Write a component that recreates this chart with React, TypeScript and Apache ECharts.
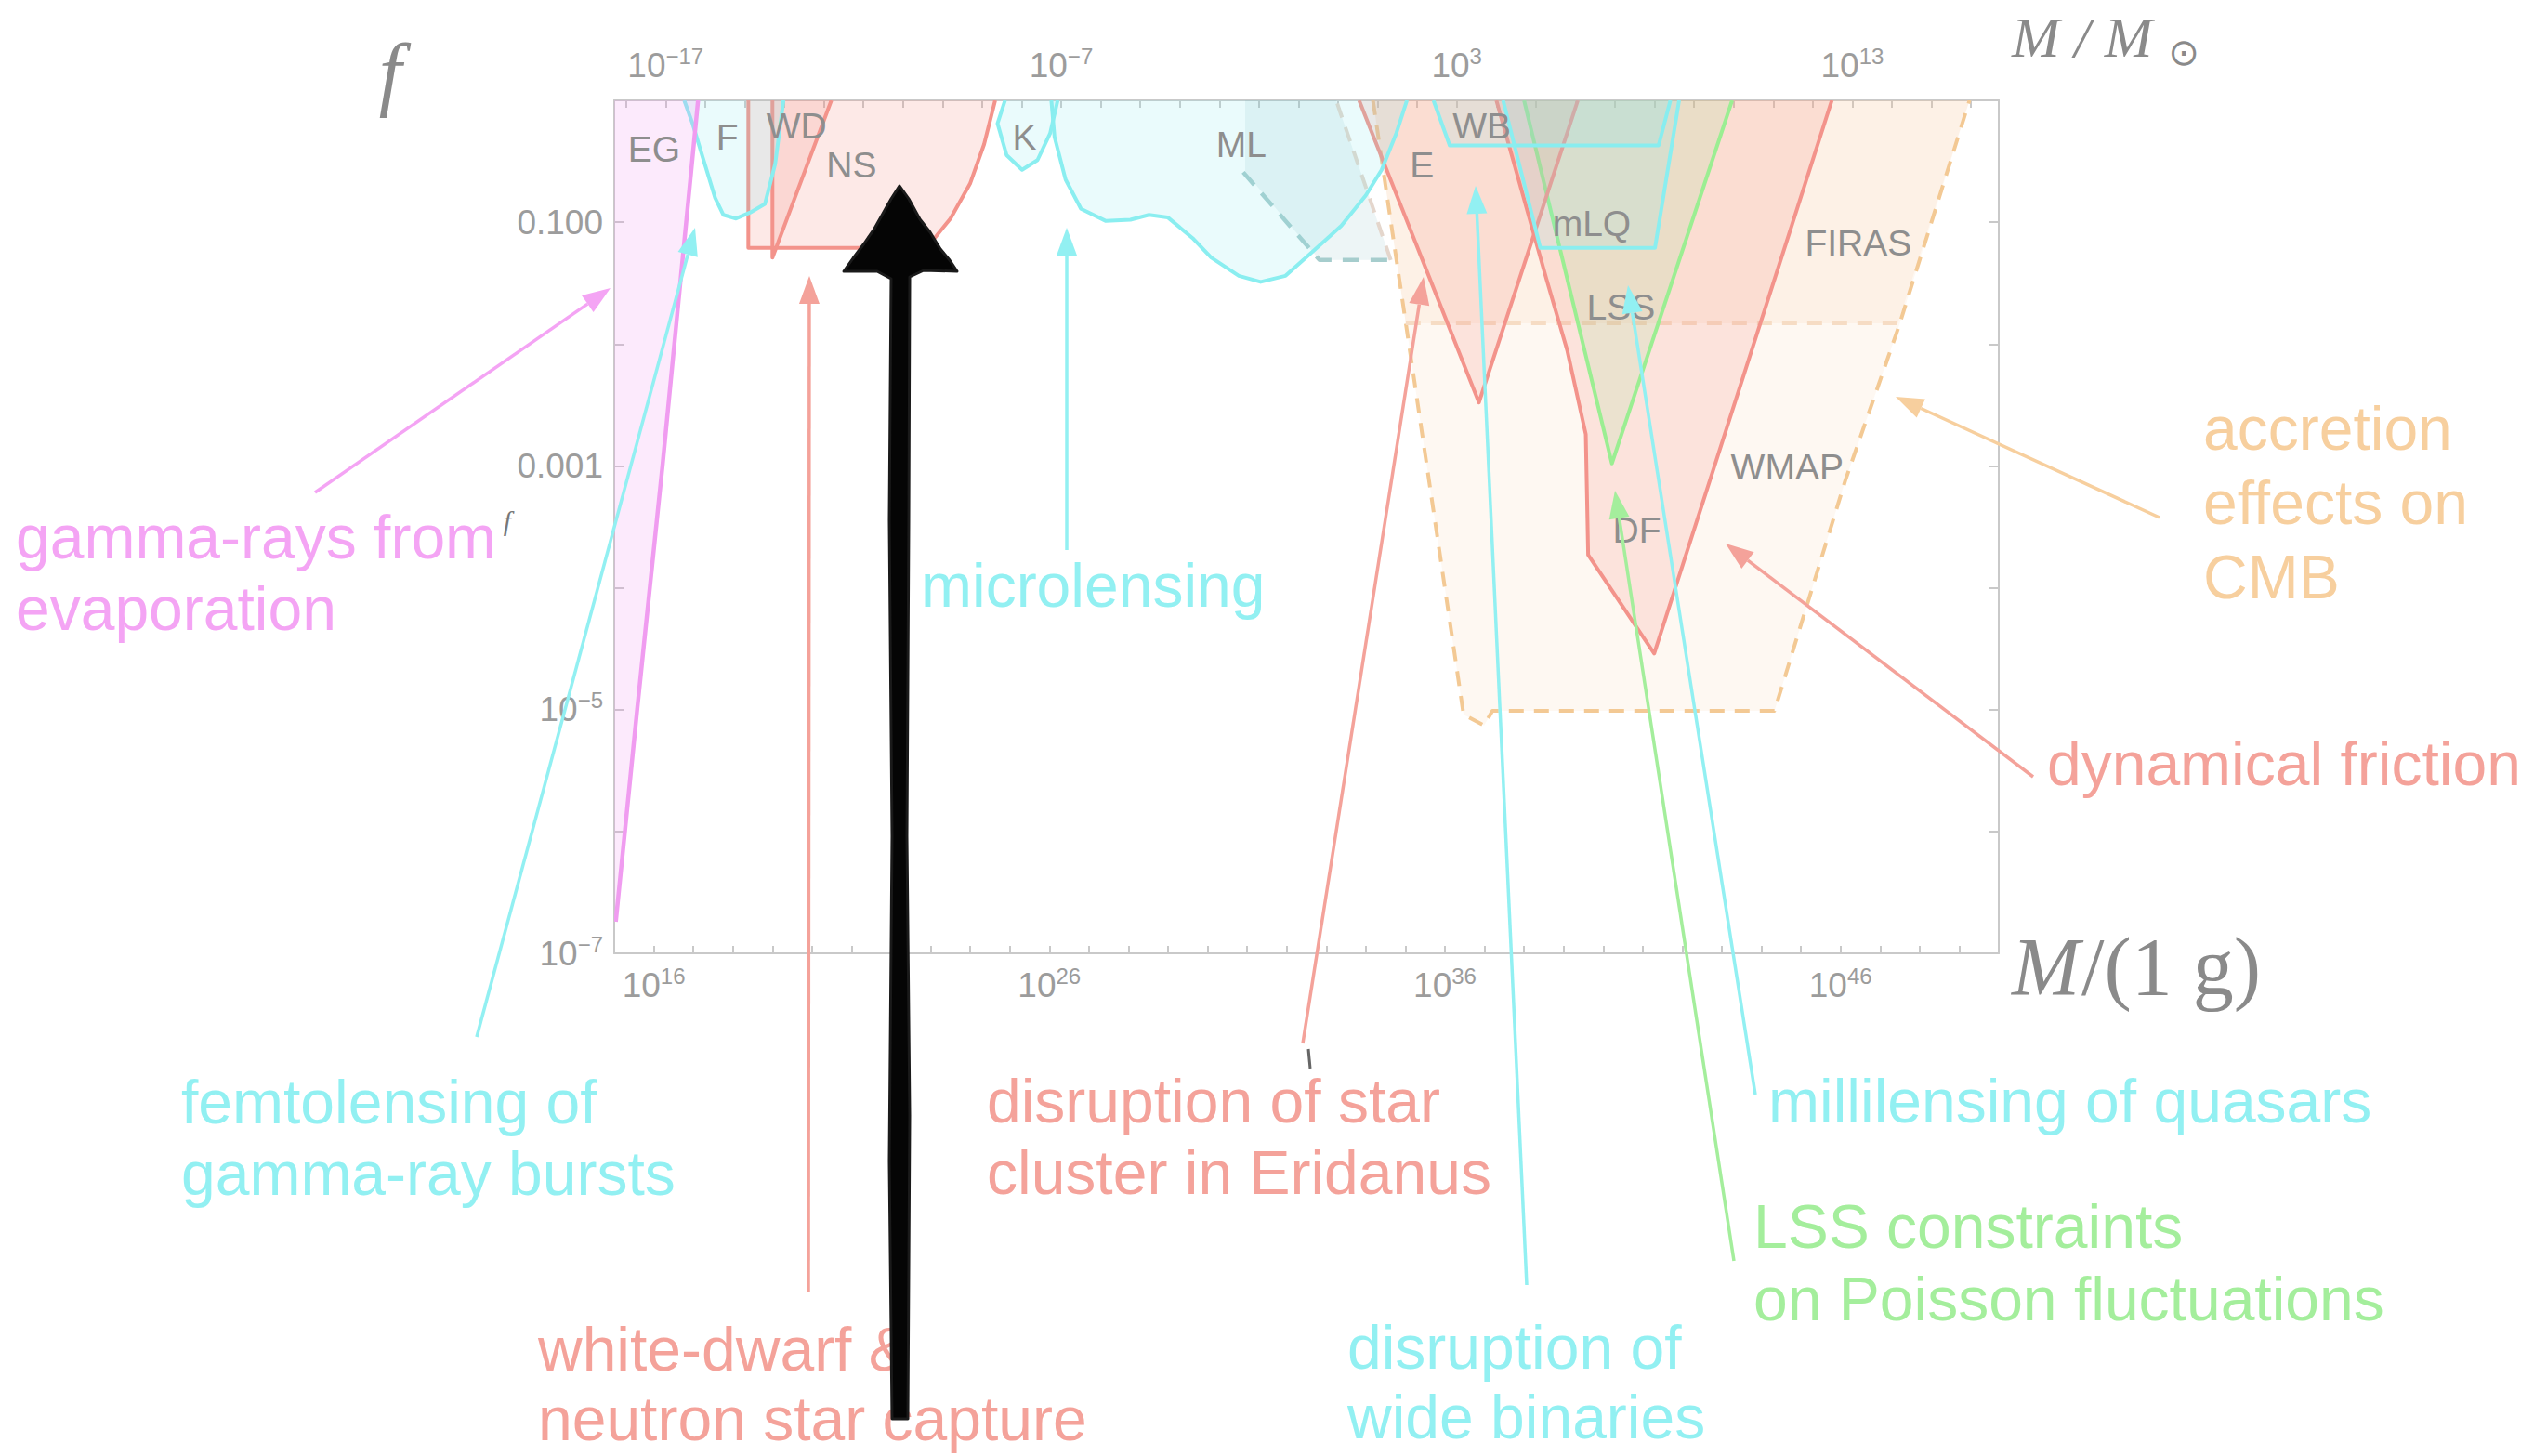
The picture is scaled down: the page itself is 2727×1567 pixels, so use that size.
import React, { useEffect, useRef } from 'react';
import * as echarts from 'echarts';

type Pt = [number, number];

// log10 of one solar mass in grams, links the two mass scales
const LOG_SOLAR_MASS_G = 33.2986;

// axis ranges (log10 M/g, log10 f)
const massRange: Pt = [15, 50];
const fracRange: Pt = [-7, 0];

// tick labels
const gramLabelExps = [16, 26, 36, 46];
const solarLabelExps = [-17, -7, 3, 13];
const fracLabelExps = [-7, -5, -3, -1];

// constraint boundaries, [log10 M/g, log10 f]
const evaporationEdge: Pt[] = [[15.04, -6.74], [15.58, -5.0], [16.22, -3.0], [16.82, -1.0], [17.12, 0]];
const evaporationFill: Pt[] = [[15, -6.74], [15.04, -6.74], [15.58, -5.0], [16.22, -3.0], [16.82, -1.0], [17.12, 0], [15, 0]];
const femtoEdge: Pt[] = [[16.77, 0], [16.98, -0.19], [17.24, -0.47], [17.55, -0.8], [17.76, -0.94], [18.08, -0.97], [18.44, -0.92], [18.81, -0.85], [19.07, -0.52], [19.28, 0]];
const neutronStarEdge: Pt[] = [[18.39, 0], [18.39, -1.21], [22.6, -1.21], [23.1, -1.13], [23.5, -0.97], [24.0, -0.68], [24.35, -0.36], [24.63, 0]];
const whiteDwarfEdge: Pt[] = [[19.0, 0], [19.0, -1.29], [20.49, 0]];
const keplerEdge: Pt[] = [[24.88, 0], [24.69, -0.19], [24.92, -0.45], [25.31, -0.57], [25.7, -0.49], [26.02, -0.27], [26.21, 0]];
const microlensEdge: Pt[] = [[26.05, 0], [26.13, -0.3], [26.41, -0.65], [26.8, -0.89], [27.43, -0.99], [28.05, -0.98], [28.52, -0.94], [28.99, -0.96], [29.62, -1.13], [30.09, -1.29], [30.79, -1.44], [31.34, -1.49], [31.97, -1.44], [32.59, -1.26], [33.38, -1.03], [34.0, -0.78], [34.4, -0.57], [34.77, -0.27], [35.04, 0]];
const machoEdge: Pt[] = [[30.9, -0.59], [32.83, -1.31], [34.63, -1.31]];
const machoSide: Pt[] = [[34.63, -1.31], [33.25, 0]];
const machoFill: Pt[] = [[30.95, 0], [30.95, -0.59], [32.83, -1.31], [34.63, -1.31], [33.25, 0]];
const eridanusEdge: Pt[] = [[33.83, 0], [36.86, -2.48], [39.36, 0]];
const wideBinaryEdge: Pt[] = [[35.71, 0], [36.12, -0.37], [41.4, -0.37], [41.7, 0]];
const quasarEdge: Pt[] = [[37.47, 0], [38.41, -1.21], [41.31, -1.21], [41.92, 0]];
const lssEdge: Pt[] = [[38.0, 0], [40.22, -2.98], [43.26, 0]];
const frictionEdge: Pt[] = [[37.3, 0], [38.56, -1.46], [39.09, -2.05], [39.56, -2.74], [39.62, -3.73], [41.29, -4.54], [44.34, -1.46], [45.78, 0]];
const wmapEdge: Pt[] = [[34.18, 0], [36.47, -5.04], [36.99, -5.13], [37.2, -5.01], [44.33, -5.01], [46.12, -3.12], [47.48, -1.85], [49.26, 0]];
const firasEdge: Pt[] = [[35.01, -1.83], [47.45, -1.83]];
const firasFill: Pt[] = [[34.18, 0], [35.01, -1.83], [47.45, -1.83], [49.26, 0]];

// region tags inside the plot
const tagNames = ['EG', 'F', 'WD', 'NS', 'K', 'ML', 'E', 'WB', 'mLQ', 'LSS', 'FIRAS', 'WMAP', 'DF'];
const tagPoints: Pt[] = [[16.01, -0.4], [17.86, -0.3], [19.61, -0.21], [21.0, -0.53], [25.37, -0.3], [30.85, -0.36], [35.42, -0.53], [36.93, -0.21], [39.71, -1.01], [40.45, -1.7], [46.45, -1.17], [44.65, -3.01], [40.85, -3.53]];

const RED = '#f3938b';
const RED_FILL = 'rgba(244,140,128,0.19)';
const CYAN = '#8aeef0';
const CYAN_FILL = 'rgba(130,232,238,0.17)';
const MAGENTA = '#f09cf0';
const MAGENTA_FILL = 'rgba(240,150,240,0.2)';
const GREEN = '#9bee92';
const GREEN_FILL = 'rgba(150,225,140,0.16)';
const ORANGE = '#f3c994';
const ORANGE_FILL = 'rgba(245,195,150,0.12)';
const TEAL = '#a6cdcd';
const TEAL_FILL = 'rgba(110,175,180,0.12)';
const AXIS_GREY = '#c9c9c9';
const LABEL_GREY = '#9c9c9c';

interface RegionStyle {
  fill?: string;
  fillPts?: Pt[];
  stroke?: string;
  width?: number;
  dash?: number[];
}

function region(name: string, edge: Pt[], opt: RegionStyle) {
  return {
    type: 'custom',
    name,
    coordinateSystem: 'cartesian2d',
    clip: true,
    silent: true,
    encode: { x: 0, y: 1 },
    data: edge,
    renderItem: (params: any, api: any) => {
      if (params.dataIndex !== 0) return null;
      const children: any[] = [];
      if (opt.fill) {
        const fp = (opt.fillPts || edge).map((p) => api.coord(p));
        children.push({ type: 'polygon', shape: { points: fp }, style: { fill: opt.fill, stroke: 'none' } });
      }
      if (opt.stroke) {
        const sp = edge.map((p) => api.coord(p));
        children.push({
          type: 'polyline',
          shape: { points: sp },
          style: { fill: 'none', stroke: opt.stroke, lineWidth: opt.width || 4, lineDash: opt.dash || null, lineJoin: 'round' },
        });
      }
      return { type: 'group', children };
    },
  };
}

function ticksBetween(a: number, b: number): number[] {
  const out: number[] = [];
  for (let v = Math.ceil(a); v <= Math.floor(b); v++) out.push(v);
  return out;
}

function powerLabel(v: number) {
  const e = String(v).replace('-', '\u2212');
  return `{b|10}{s|${e}}`;
}

const tickRich = {
  b: { fontSize: 37, lineHeight: 44, color: LABEL_GREY, fontFamily: 'Liberation Sans' },
  s: { fontSize: 24, lineHeight: 24, verticalAlign: 'top', color: LABEL_GREY, fontFamily: 'Liberation Sans' },
};

function arrow(x1: number, y1: number, x2: number, y2: number, color: string) {
  const dx = x2 - x1;
  const dy = y2 - y1;
  const len = Math.hypot(dx, dy);
  const ux = dx / len;
  const uy = dy / len;
  const hl = 30;
  const hw = 11;
  const bx = x2 - ux * hl;
  const by = y2 - uy * hl;
  return [
    { type: 'line', z: 100, shape: { x1, y1, x2: bx, y2: by }, style: { stroke: color, lineWidth: 3.5 } },
    {
      type: 'polygon',
      z: 100,
      shape: { points: [[x2, y2], [bx - uy * hw, by + ux * hw], [bx + uy * hw, by - ux * hw]] },
      style: { fill: color },
    },
  ];
}

function note(lines: string[], x: number, y: number, step: number, color: string) {
  return lines.map((t, i) => ({
    type: 'text',
    z: 100,
    x,
    y: y + i * step,
    style: {
      text: t,
      fill: color,
      fontSize: 66,
      fontFamily: 'Liberation Sans',
      align: 'left',
      verticalAlign: 'middle',
      textAlign: 'left',
      textVerticalAlign: 'middle',
    },
  }));
}

const NOTE_MAGENTA = '#f4a4f4';
const NOTE_CYAN = '#92f0f2';
const NOTE_RED = '#f4a29a';
const NOTE_GREEN = '#a4ee9c';
const NOTE_ORANGE = '#f7cf9e';

function buildOption() {
  const gramTicks = ticksBetween(massRange[0], massRange[1]);
  const solarMin = massRange[0] - LOG_SOLAR_MASS_G;
  const solarMax = massRange[1] - LOG_SOLAR_MASS_G;
  const solarTicks = ticksBetween(solarMin, solarMax);
  const fracTicks = ticksBetween(fracRange[0], fracRange[1]);

  const axisLine = { show: true, onZero: false, lineStyle: { color: AXIS_GREY, width: 2 } };

  // hand-drawn black pointer
  const blackArrow = {
    type: 'polygon',
    z: 200,
    shape: {
      points: [
        [968, 200], [978, 214], [990, 236], [1001, 250], [1012, 268], [1022, 280], [1030, 292],
        [994, 291], [979, 298], [978, 560], [976, 900], [979, 1200], [977, 1527],
        [960, 1527], [957, 1250], [960, 900], [957, 560], [959, 300], [944, 292], [908, 292],
        [918, 278], [930, 262], [941, 246], [950, 230], [959, 214],
      ],
    },
    style: { fill: '#050505', stroke: '#1a1a1a', lineWidth: 3, lineJoin: 'round' },
  };

  const graphic: any[] = [
    // axis titles
    { type: 'text', x: 420, y: 78, style: { text: 'f', fontSize: 88, fontStyle: 'italic', fontFamily: 'Liberation Serif', fill: '#8a8a8a', align: 'center', verticalAlign: 'middle', textAlign: 'center', textVerticalAlign: 'middle' } },
    { type: 'text', x: 2165, y: 40, style: { text: 'M / M', fontSize: 62, fontStyle: 'italic', fontFamily: 'Liberation Serif', fill: '#8a8a8a', align: 'left', verticalAlign: 'middle', textAlign: 'left', textVerticalAlign: 'middle' } },
    { type: 'text', x: 2350, y: 56, style: { text: '\u2299', fontSize: 40, fontFamily: 'DejaVu Sans', fill: '#8a8a8a', align: 'center', verticalAlign: 'middle', textAlign: 'center', textVerticalAlign: 'middle' } },
    { type: 'text', x: 2165, y: 1040, style: { text: 'M', fontSize: 88, fontStyle: 'italic', fontFamily: 'Liberation Serif', fill: '#8a8a8a', align: 'left', verticalAlign: 'middle', textAlign: 'left', textVerticalAlign: 'middle' } },
    { type: 'text', x: 2240, y: 1040, style: { text: '/(1 g)', fontSize: 88, fontFamily: 'Liberation Serif', fill: '#8a8a8a', align: 'left', verticalAlign: 'middle', textAlign: 'left', textVerticalAlign: 'middle' } },
    { type: 'text', x: 546, y: 560, z: 120, style: { text: 'f', fontSize: 30, fontStyle: 'italic', fontFamily: 'Liberation Serif', fill: '#777777', align: 'center', verticalAlign: 'middle', textAlign: 'center', textVerticalAlign: 'middle' } },

    // annotations
    ...note(['gamma-rays from', 'evaporation'], 17, 578, 77, NOTE_MAGENTA),
    ...arrow(339, 530, 657, 310, NOTE_MAGENTA),
    ...note(['femtolensing of', 'gamma-ray bursts'], 195, 1186, 77, NOTE_CYAN),
    ...arrow(513, 1116, 748, 245, NOTE_CYAN),
    ...note(['white-dwarf &', 'neutron star capture'], 579, 1452, 75, NOTE_RED),
    ...arrow(870, 1391, 871, 297, NOTE_RED),
    ...note(['microlensing'], 991, 630, 77, NOTE_CYAN),
    ...arrow(1148, 592, 1148, 245, NOTE_CYAN),
    ...note(['disruption of star', 'cluster in Eridanus'], 1062, 1185, 77, NOTE_RED),
    ...arrow(1402, 1123, 1532, 298, NOTE_RED),
    { type: 'line', z: 110, shape: { x1: 1408, y1: 1129, x2: 1410, y2: 1150 }, style: { stroke: '#666', lineWidth: 3 } },
    ...note(['disruption of', 'wide binaries'], 1450, 1450, 75, NOTE_CYAN),
    ...arrow(1643, 1383, 1588, 200, NOTE_CYAN),
    ...note(['millilensing of quasars'], 1903, 1185, 77, NOTE_CYAN),
    ...arrow(1889, 1178, 1752, 307, NOTE_CYAN),
    ...note(['LSS constraints', 'on Poisson fluctuations'], 1887, 1320, 78, NOTE_GREEN),
    ...arrow(1866, 1357, 1738, 528, NOTE_GREEN),
    ...note(['accretion', 'effects on', 'CMB'], 2371, 461, 80, NOTE_ORANGE),
    ...arrow(2324, 557, 2040, 427, NOTE_ORANGE),
    ...note(['dynamical friction'], 2203, 822, 77, NOTE_RED),
    ...arrow(2188, 836, 1857, 585, NOTE_RED),

    blackArrow,
  ];

  return {
    animation: false,
    backgroundColor: '#ffffff',
    grid: { left: 661, top: 108, width: 1490, height: 918, containLabel: false },
    xAxis: [
      {
        type: 'value',
        position: 'bottom',
        min: massRange[0],
        max: massRange[1],
        axisLine,
        splitLine: { show: false },
        axisTick: { show: true, inside: true, length: 8, customValues: gramTicks, lineStyle: { color: AXIS_GREY, width: 2 } },
        axisLabel: { customValues: gramLabelExps, formatter: (v: number) => powerLabel(v), rich: tickRich, margin: 12 },
      },
      {
        type: 'value',
        position: 'top',
        min: solarMin,
        max: solarMax,
        axisLine,
        splitLine: { show: false },
        axisTick: { show: true, inside: true, length: 8, customValues: solarTicks, lineStyle: { color: AXIS_GREY, width: 2 } },
        axisLabel: { customValues: solarLabelExps, formatter: (v: number) => powerLabel(v), rich: tickRich, margin: 16 },
      },
    ],
    yAxis: [
      {
        type: 'value',
        position: 'left',
        min: fracRange[0],
        max: fracRange[1],
        axisLine,
        splitLine: { show: false },
        axisTick: { show: true, inside: true, length: 10, customValues: fracTicks, lineStyle: { color: AXIS_GREY, width: 2 } },
        axisLabel: {
          customValues: fracLabelExps,
          margin: 12,
          rich: tickRich,
          formatter: (v: number) => (v === -1 ? '{b|0.100}' : v === -3 ? '{b|0.001}' : powerLabel(v)),
        },
      },
      {
        type: 'value',
        position: 'right',
        min: fracRange[0],
        max: fracRange[1],
        axisLine,
        splitLine: { show: false },
        axisTick: { show: true, inside: true, length: 10, customValues: fracTicks, lineStyle: { color: AXIS_GREY, width: 2 } },
        axisLabel: { show: false },
      },
    ],
    series: [
      region('WMAP accretion', wmapEdge, { fill: ORANGE_FILL, stroke: ORANGE, width: 4, dash: [16, 11] }),
      region('FIRAS accretion', firasEdge, { fill: ORANGE_FILL, fillPts: firasFill, stroke: '#f6dcc4', width: 4, dash: [16, 11] }),
      region('dynamical friction', frictionEdge, { fill: RED_FILL, stroke: RED, width: 4 }),
      region('LSS', lssEdge, { fill: GREEN_FILL, stroke: GREEN, width: 4 }),
      region('Eridanus', eridanusEdge, { fill: RED_FILL, stroke: RED, width: 4 }),
      region('MACHO/EROS', machoEdge, { fill: TEAL_FILL, fillPts: machoFill, stroke: TEAL, width: 4.5, dash: [18, 12] }),
      region('MACHO/EROS side', machoSide, { stroke: '#e4d6cc', width: 4, dash: [16, 11] }),
      region('microlensing', microlensEdge, { fill: CYAN_FILL, stroke: CYAN, width: 4 }),
      region('Kepler', keplerEdge, { fill: CYAN_FILL, stroke: CYAN, width: 4 }),
      region('wide binaries', wideBinaryEdge, { fill: CYAN_FILL, stroke: CYAN, width: 4 }),
      region('millilensing', quasarEdge, { fill: CYAN_FILL, stroke: CYAN, width: 4 }),
      region('neutron star', neutronStarEdge, { fill: RED_FILL, stroke: RED, width: 4 }),
      region('white dwarf', whiteDwarfEdge, { fill: RED_FILL, stroke: RED, width: 4 }),
      region('femtolensing', femtoEdge, { fill: CYAN_FILL, stroke: CYAN, width: 4 }),
      region('evaporation', evaporationEdge, { fill: MAGENTA_FILL, fillPts: evaporationFill, stroke: MAGENTA, width: 4.5 }),
      {
        type: 'custom',
        name: 'tags',
        coordinateSystem: 'cartesian2d',
        silent: true,
        encode: { x: 0, y: 1 },
        data: tagPoints,
        z: 5,
        renderItem: (params: any, api: any) => {
          const p = api.coord([api.value(0), api.value(1)]);
          return {
            type: 'text',
            x: p[0],
            y: p[1],
            style: {
              text: tagNames[params.dataIndex],
              fill: '#8e8e8e',
              fontSize: 39,
              fontFamily: 'Liberation Sans',
              align: 'center',
              verticalAlign: 'middle',
              textAlign: 'center',
              textVerticalAlign: 'middle',
            },
          };
        },
      },
    ],
    graphic,
  };
}

export default function App() {
  const ref = useRef<HTMLDivElement>(null);
  useEffect(() => {
    if (!ref.current) return;
    const chart = echarts.init(ref.current, undefined, { renderer: 'svg' });
    chart.setOption(buildOption() as any);
    return () => chart.dispose();
  }, []);
  return (
    <div
      ref={ref}
      style={{ position: 'absolute', left: 0, top: 0, width: 2727, height: 1567, background: '#ffffff' }}
    />
  );
}
